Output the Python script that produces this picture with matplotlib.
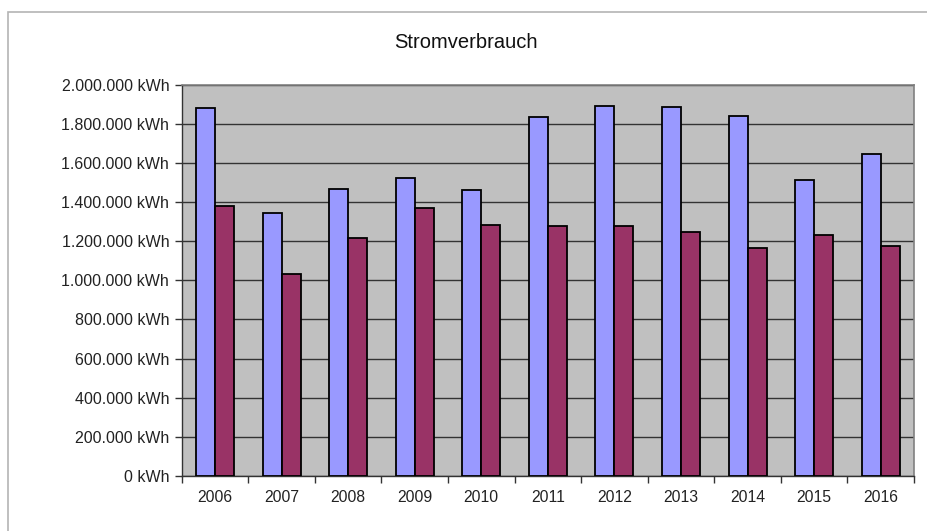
import matplotlib
matplotlib.use("Agg")
import matplotlib.pyplot as plt
import numpy as np
from matplotlib.ticker import FuncFormatter
from matplotlib.patches import Rectangle

# === Data ===
years = ["2006", "2007", "2008", "2009", "2010", "2011",
         "2012", "2013", "2014", "2015", "2016"]
series_a = [1882000, 1343000, 1467000, 1523000, 1462000, 1833000,
            1891000, 1888000, 1838000, 1511000, 1647000]
series_b = [1382000, 1035000, 1217000, 1371000, 1283000, 1278000,
            1278000, 1249000, 1165000, 1230000, 1176000]
y_ticks = [0, 200000, 400000, 600000, 800000, 1000000,
           1200000, 1400000, 1600000, 1800000, 2000000]

plt.rcParams['font.family'] = ['Liberation Sans', 'DejaVu Sans']

fig = plt.figure(figsize=(9.28, 5.31), dpi=100)
ax = fig.add_axes([181.7 / 928, 1 - 476 / 531, (914 - 181.7) / 928, (476 - 84.7) / 531])

# outer chart frame (only top/left visible in the reference)
fig.add_artist(Rectangle((7.5 / 928, -0.1), 1.2, 1 - 11.5 / 531 + 0.1,
                         transform=fig.transFigure, fill=False,
                         edgecolor="#b4b4b4", linewidth=1.2))

x = np.arange(len(years))
w = 0.285
ax.set_facecolor("#c0c0c0")
ax.bar(x - w / 2, series_a, w, color="#9999ff", edgecolor="black", linewidth=1.3, zorder=3)
ax.bar(x + w / 2, series_b, w, color="#993366", edgecolor="black", linewidth=1.3, zorder=3)

ax.set_xlim(-0.5, len(years) - 0.5)
ax.set_ylim(0, 2000000)
ax.set_yticks(y_ticks)
ax.yaxis.set_major_formatter(FuncFormatter(lambda v, p: f"{int(v):,} kWh".replace(",", ".")))
ax.grid(axis="y", color="#333333", linewidth=1.0, zorder=1)

# category ticks between groups, labels centred
ax.set_xticks(np.arange(-0.5, len(years), 1.0))
ax.set_xticklabels([])
ax.set_xticks(x, minor=True)
ax.set_xticklabels(years, minor=True)
ax.tick_params(axis="x", which="major", length=5, width=1, color="#333333")
ax.tick_params(axis="x", which="minor", length=0, pad=10, labelsize=11.3, labelcolor="#222222")
ax.tick_params(axis="y", length=5, width=1, color="#333333", pad=4, labelsize=11.5, labelcolor="#222222")

for s in ["top", "right"]:
    ax.spines[s].set_color("#808080")
    ax.spines[s].set_linewidth(1.2)
for s in ["left", "bottom"]:
    ax.spines[s].set_color("#333333")
    ax.spines[s].set_linewidth(1.0)

fig.text(466 / 928, 1 - 43 / 531, "Stromverbrauch", ha="center", va="center",
         fontsize=14.5, color="#111111")

fig.savefig("out.png", dpi=100, facecolor="white")
